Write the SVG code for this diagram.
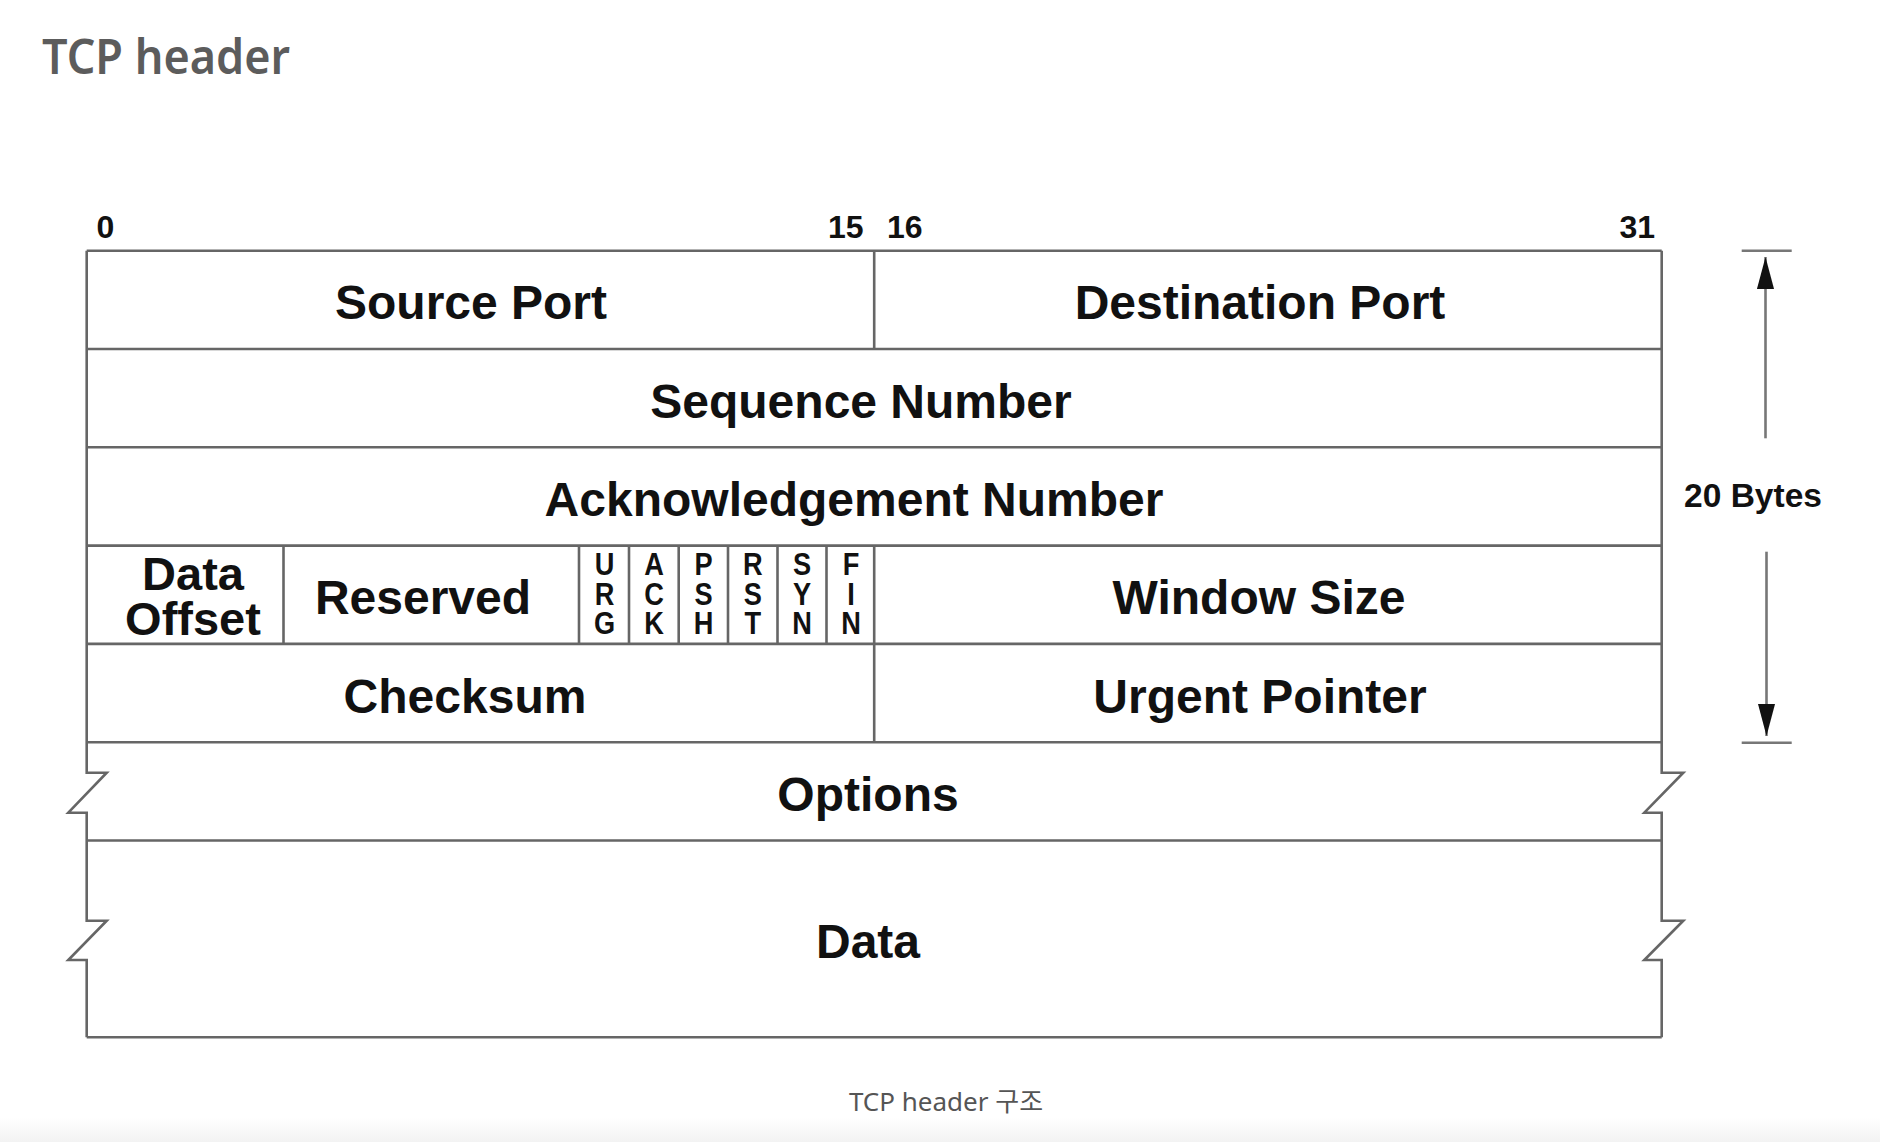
<svg xmlns="http://www.w3.org/2000/svg" width="1880" height="1142" viewBox="0 0 1880 1142">
<defs>
<style>
.ln{fill:none;stroke:#666;stroke-width:2.6;stroke-linejoin:miter}
.dim{fill:none;stroke:#777;stroke-width:2.6}
.f{font-family:"Liberation Sans",Arial,Helvetica,sans-serif;font-weight:bold;fill:#111;text-anchor:middle}
.lbl{font-size:48px}
.bit{font-family:"Liberation Sans",Arial,sans-serif;font-weight:bold;fill:#111;font-size:32px}
.flag{font-size:32px}
.ttl{font-family:"Noto Sans","Open Sans",sans-serif;font-weight:600;fill:#5c5c5c;font-size:48px}
.cap{font-family:"Noto Sans","Noto Sans CJK KR",sans-serif;fill:#555;font-size:26px;text-anchor:middle}
</style>
<linearGradient id="fade" x1="0" y1="0" x2="0" y2="1">
<stop offset="0" stop-color="#ffffff"/>
<stop offset="1" stop-color="#f3f3f3"/>
</linearGradient>
<marker id="ah" markerUnits="userSpaceOnUse" markerWidth="32" markerHeight="18" refX="30" refY="8" orient="auto" viewBox="0 0 30 16">
<path d="M0,0 L30,8 L0,16 Z" fill="#111"/>
</marker>
</defs>
<rect x="0" y="0" width="1880" height="1142" fill="#ffffff"/>
<rect x="0" y="1118" width="1880" height="24" fill="url(#fade)"/>

<text id="title" class="ttl" x="42" y="74" textLength="248" lengthAdjust="spacingAndGlyphs">TCP header</text>

<g id="bit-numbers">
<text class="bit" x="96.5" y="237.5">0</text>
<text class="bit" x="863.5" y="237.5" text-anchor="end">15</text>
<text class="bit" x="887" y="237.5">16</text>
<text class="bit" x="1655" y="237.5" text-anchor="end">31</text>
</g>

<g id="frame">
<path class="ln" d="M86.7,250.7 H1661.7"/>
<path class="ln" d="M86.7,349 H1661.7 M86.7,447.3 H1661.7 M86.7,545.6 H1661.7 M86.7,643.9 H1661.7 M86.7,742.2 H1661.7 M86.7,840.5 H1661.7 M86.7,1037.3 H1661.7"/>
<path class="ln" d="M86.7,250.7 V772.7 H106.7 L68.3,812.7 H86.7 V920.7 H106.7 L68.3,960 H86.7 V1037.3"/>
<path class="ln" d="M1661.7,250.7 V772.7 H1683.3 L1644.3,812.7 H1661.7 V920.7 H1683.3 L1644.3,960 H1661.7 V1037.3"/>
<path class="ln" d="M874.2,250.7 V349 M874.2,545.6 V742.2"/>
<path class="ln" d="M283.5,545.6 V643.9 M579,545.6 V643.9 M629,545.6 V643.9 M678.7,545.6 V643.9 M728,545.6 V643.9 M777.5,545.6 V643.9 M826.5,545.6 V643.9"/>
</g>

<g id="source-port"><text class="f lbl" x="471" y="319">Source Port</text></g>
<g id="destination-port"><text class="f lbl" x="1260" y="319">Destination Port</text></g>
<g id="sequence-number"><text class="f lbl" x="861" y="417.5">Sequence Number</text></g>
<g id="acknowledgement-number"><text class="f lbl" x="854" y="516">Acknowledgement Number</text></g>
<g id="data-offset"><text class="f" style="font-size:47px" x="193" y="590"><tspan x="193" y="590">Data</tspan><tspan x="193" y="635">Offset</tspan></text></g>
<g id="reserved"><text class="f lbl" x="423" y="614">Reserved</text></g>
<g id="flag-urg" transform="translate(604.5,0) scale(0.85,1)"><text class="f flag"><tspan x="0" y="575">U</tspan><tspan x="0" y="605">R</tspan><tspan x="0" y="634.5">G</tspan></text></g>
<g id="flag-ack" transform="translate(654,0) scale(0.85,1)"><text class="f flag"><tspan x="0" y="575">A</tspan><tspan x="0" y="605">C</tspan><tspan x="0" y="634.5">K</tspan></text></g>
<g id="flag-psh" transform="translate(703.5,0) scale(0.85,1)"><text class="f flag"><tspan x="0" y="575">P</tspan><tspan x="0" y="605">S</tspan><tspan x="0" y="634.5">H</tspan></text></g>
<g id="flag-rst" transform="translate(752.8,0) scale(0.85,1)"><text class="f flag"><tspan x="0" y="575">R</tspan><tspan x="0" y="605">S</tspan><tspan x="0" y="634.5">T</tspan></text></g>
<g id="flag-syn" transform="translate(802,0) scale(0.85,1)"><text class="f flag"><tspan x="0" y="575">S</tspan><tspan x="0" y="605">Y</tspan><tspan x="0" y="634.5">N</tspan></text></g>
<g id="flag-fin" transform="translate(851,0) scale(0.85,1)"><text class="f flag"><tspan x="0" y="575">F</tspan><tspan x="0" y="605">I</tspan><tspan x="0" y="634.5">N</tspan></text></g>
<g id="window-size"><text class="f lbl" x="1259" y="614">Window Size</text></g>
<g id="checksum"><text class="f lbl" x="465" y="713">Checksum</text></g>
<g id="urgent-pointer"><text class="f lbl" x="1260" y="713">Urgent Pointer</text></g>
<g id="options"><text class="f lbl" x="868" y="811">Options</text></g>
<g id="data"><text class="f lbl" x="868" y="958">Data</text></g>

<g id="size-label"><text class="f" style="font-size:33.5px" x="1753" y="506.5">20 Bytes</text></g>

<g id="connectors">
<path class="dim" d="M1741.7,250.7 H1791.7 M1741.7,742.7 H1791.7"/>
<path class="dim" d="M1765.5,438.3 V257" marker-end="url(#ah)"/>
<path class="dim" d="M1766.5,551.7 V736" marker-end="url(#ah)"/>
</g>

<text id="caption" class="cap" x="946" y="1110.5">TCP header 구조</text>
</svg>
